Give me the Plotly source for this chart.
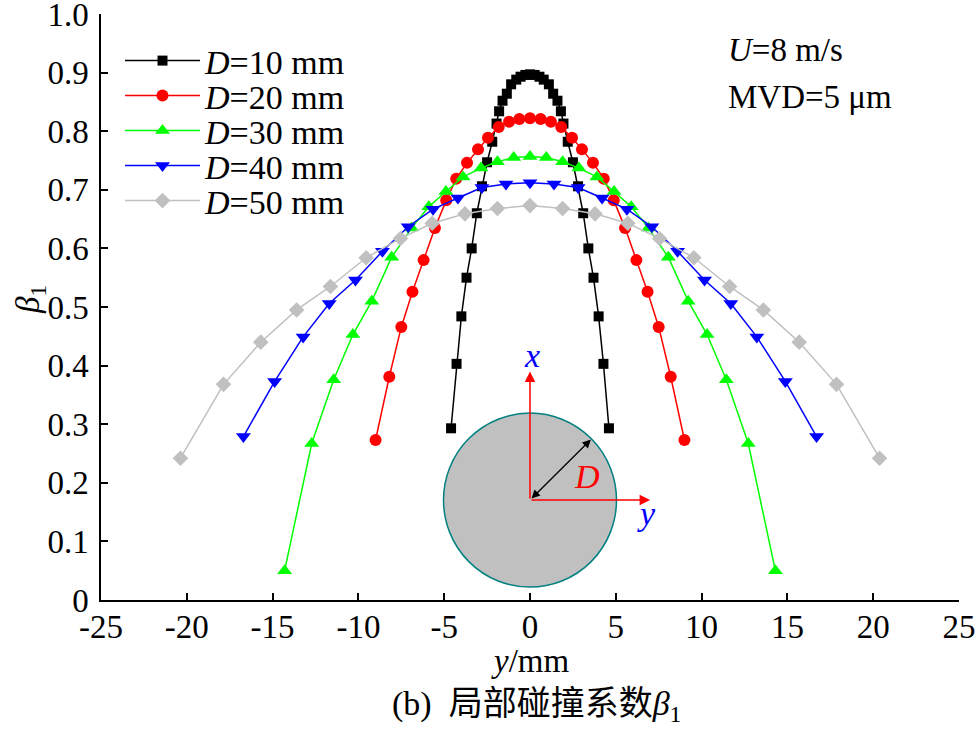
import plotly.graph_objects as go

# ---- data ----
x_d10 = [-4.6, -4.28, -4.0, -3.7, -3.4, -3.1, -2.8, -2.5, -2.2, -1.95, -1.8, -1.6, -1.35, -1.1, -0.8, -0.55, -0.27, 0.0,
         0.27, 0.55, 0.8, 1.1, 1.35, 1.6, 1.8, 1.95, 2.2, 2.5, 2.8, 3.1, 3.4, 3.7, 4.0, 4.28, 4.6]
y_d10 = [0.293, 0.403, 0.484, 0.550, 0.600, 0.660, 0.706, 0.747, 0.782, 0.813, 0.834, 0.852, 0.864, 0.880, 0.888, 0.893, 0.896, 0.897,
         0.896, 0.893, 0.888, 0.880, 0.864, 0.852, 0.834, 0.813, 0.782, 0.747, 0.706, 0.660, 0.600, 0.550, 0.484, 0.403, 0.293]

x_d20 = [-9.0, -8.2, -7.5, -6.85, -6.2, -5.54, -4.88, -4.3, -3.67, -3.03, -2.45, -1.82, -1.22, -0.62, 0.0,
         0.62, 1.22, 1.82, 2.45, 3.03, 3.67, 4.3, 4.88, 5.54, 6.2, 6.85, 7.5, 8.2, 9.0]
y_d20 = [0.273, 0.381, 0.466, 0.526, 0.580, 0.635, 0.682, 0.719, 0.746, 0.769, 0.789, 0.807, 0.816, 0.821, 0.822,
         0.821, 0.816, 0.807, 0.789, 0.769, 0.746, 0.719, 0.682, 0.635, 0.580, 0.526, 0.466, 0.381, 0.273]

x_d30 = [-14.3, -12.72, -11.44, -10.32, -9.22, -8.06, -6.9, -5.9, -4.9, -3.9, -2.85, -1.9, -0.95, 0.0,
         0.95, 1.9, 2.85, 3.9, 4.9, 5.9, 6.9, 8.06, 9.22, 10.32, 11.44, 12.72, 14.3]
y_d30 = [0.050, 0.267, 0.376, 0.453, 0.510, 0.585, 0.635, 0.671, 0.697, 0.722, 0.737, 0.748, 0.755, 0.757,
         0.755, 0.748, 0.737, 0.722, 0.697, 0.671, 0.635, 0.585, 0.510, 0.453, 0.376, 0.267, 0.050]

x_d40 = [-16.7, -14.88, -13.22, -11.7, -10.17, -8.6, -7.1, -5.65, -4.2, -2.8, -1.4, 0.0,
         1.4, 2.8, 4.2, 5.65, 7.1, 8.6, 10.17, 11.7, 13.22, 14.88, 16.7]
y_d40 = [0.279, 0.373, 0.449, 0.506, 0.546, 0.595, 0.637, 0.667, 0.686, 0.704, 0.710, 0.712,
         0.710, 0.704, 0.686, 0.667, 0.637, 0.595, 0.546, 0.506, 0.449, 0.373, 0.279]

x_d50 = [-20.37, -17.86, -15.69, -13.6, -11.63, -9.55, -7.55, -5.7, -3.79, -1.9, 0.0,
         1.9, 3.79, 5.7, 7.55, 9.55, 11.63, 13.6, 15.69, 17.86, 20.37]
y_d50 = [0.242, 0.368, 0.440, 0.495, 0.535, 0.584, 0.617, 0.643, 0.659, 0.668, 0.673,
         0.668, 0.659, 0.643, 0.617, 0.584, 0.535, 0.495, 0.440, 0.368, 0.242]

series_names = ["<i>D</i>=10 mm", "<i>D</i>=20 mm", "<i>D</i>=30 mm", "<i>D</i>=40 mm", "<i>D</i>=50 mm"]
series_x = [x_d10, x_d20, x_d30, x_d40, x_d50]
series_y = [y_d10, y_d20, y_d30, y_d40, y_d50]
series_colors = ["#000000", "#ff0000", "#00ff00", "#0000ff", "#c0c0c0"]
series_symbols = ["square", "circle", "triangle-up", "triangle-down", "diamond"]
series_sizes = [10, 12, 13, 13, 12]

x_tickvals = [-25, -20, -15, -10, -5, 0, 5, 10, 15, 20, 25]
x_ticktext = ["-25", "-20", "-15", "-10", "-5", "0", "5", "10", "15", "20", "25"]
y_tickvals = [0, 0.1, 0.2, 0.3, 0.4, 0.5, 0.6, 0.7, 0.8, 0.9, 1.0]
y_ticktext = ["0", "0.1", "0.2", "0.3", "0.4", "0.5", "0.6", "0.7", "0.8", "0.9", "1.0"]

FONT = "Liberation Serif, Times New Roman, Noto Sans CJK SC, serif"
FS = 33

# plot area in pixels: left 101, top 14, width 858, height 586
PLOT_TOP, PLOT_H, PLOT_L, PLOT_W = 14, 586, 101, 858
def py(page_y):
    return (PLOT_TOP + PLOT_H - page_y) / PLOT_H
def px(page_x):
    return (page_x - PLOT_L) / PLOT_W

legend_rows = [61, 96, 131, 166, 201]

fig = go.Figure()
for i, (name, xs, ys, col, sym, sz) in enumerate(zip(series_names, series_x, series_y, series_colors,
                                                     series_symbols, series_sizes)):
    fig.add_trace(go.Scatter(
        x=xs, y=ys, mode="lines+markers", name=name,
        line=dict(color=col, width=1.5),
        marker=dict(symbol=sym, size=sz, color=col, line=dict(width=0)),
        legend="legend" if i == 0 else f"legend{i+1}",
    ))

# inset: cylinder cross-section
fig.add_shape(type="circle", xref="x", yref="y", x0=-5.04, x1=5.04, y0=0.022, y1=0.319,
              fillcolor="#c0c0c0", line=dict(color="#008080", width=1.5), layer="below")

arrow_common = dict(xref="x", yref="y", axref="x", ayref="y", text="", showarrow=True)
fig.add_annotation(x=0, y=0.39, ax=0, ay=0.1706, arrowcolor="#ff0000", arrowhead=2, arrowsize=1.4,
                   arrowwidth=1.5, **arrow_common)
fig.add_annotation(x=7.0, y=0.1706, ax=0, ay=0.1706, arrowcolor="#ff0000", arrowhead=2, arrowsize=1.4,
                   arrowwidth=1.5, **arrow_common)
fig.add_annotation(x=3.55, y=0.274, ax=0, ay=0.1706, arrowcolor="#000000", arrowhead=2, arrowsize=1.3,
                   arrowwidth=1.3, arrowside="end+start", startarrowhead=2, startarrowsize=1.3, **arrow_common)
fig.add_annotation(x=0.1, y=0.417, xref="x", yref="y", text="<i>x</i>", showarrow=False,
                   font=dict(family=FONT, size=34, color="#0000ff"))
fig.add_annotation(x=6.8, y=0.147, xref="x", yref="y", text="<i>y</i>", showarrow=False,
                   font=dict(family=FONT, size=34, color="#0000ff"))
fig.add_annotation(x=3.3, y=0.21, xref="x", yref="y", text="<i>D</i>", showarrow=False,
                   font=dict(family=FONT, size=34, color="#ff0000"))

# condition text
fig.add_annotation(x=px(726), y=py(50), xref="paper", yref="paper", xanchor="left", yanchor="middle",
                   text="<i>U</i>=8 m/s", showarrow=False, font=dict(family=FONT, size=FS, color="#000000"))
fig.add_annotation(x=px(726), y=py(97), xref="paper", yref="paper", xanchor="left", yanchor="middle",
                   text="MVD=5 \u03bcm", showarrow=False, font=dict(family=FONT, size=FS, color="#000000"))

# axis titles and caption
fig.add_annotation(x=0.5, y=py(661), xref="paper", yref="paper", xanchor="center", yanchor="middle",
                   text="<i>y</i>/mm", showarrow=False, font=dict(family=FONT, size=FS, color="#000000"))
fig.add_annotation(x=px(30), y=py(300), xref="paper", yref="paper", xanchor="center", yanchor="middle",
                   text="<i>\u03b2</i><sub>1</sub>", textangle=-90, showarrow=False,
                   font=dict(family=FONT, size=FS, color="#000000"))
fig.add_annotation(x=px(537), y=py(706), xref="paper", yref="paper", xanchor="center", yanchor="middle",
                   text="(b)\u2002局部碰撞系数<i>\u03b2</i><sub>1</sub>", showarrow=False,
                   font=dict(family=FONT, size=34, color="#000000"))

axis_common = dict(showgrid=False, zeroline=False, showline=True, linecolor="#000000", linewidth=1.5,
                   ticks="inside", ticklen=7, tickwidth=1.5, tickcolor="#000000", mirror=False,
                   automargin=False, ticklabeloverflow="allow",
                   tickfont=dict(family=FONT, size=FS, color="#000000"))
fig.update_xaxes(range=[-25, 25], tickmode="array", tickvals=x_tickvals, ticktext=x_ticktext,
                 ticklabelstandoff=-3, **axis_common)
fig.update_yaxes(range=[0, 1.0], tickmode="array", tickvals=y_tickvals, ticktext=y_ticktext,
                 ticklabelstandoff=4, **axis_common)

legend_layout = {}
for i, yc in enumerate(legend_rows):
    key = "legend" if i == 0 else f"legend{i+1}"
    legend_layout[key] = dict(x=px(120), y=py(yc), xanchor="left", yanchor="middle",
                              bgcolor="rgba(0,0,0,0)", borderwidth=0,
                              font=dict(family=FONT, size=34, color="#000000"), itemwidth=75)

fig.update_layout(
    width=977, height=729,
    margin=dict(l=101, r=18, t=14, b=129, pad=0),
    paper_bgcolor="#ffffff", plot_bgcolor="#ffffff",
    font=dict(family=FONT, color="#000000"),
    showlegend=True,
    **legend_layout,
)

fig.write_html("out.html", config={"displayModeBar": False},
               post_script="document.body.style.margin='0';document.body.style.overflow='hidden';")
